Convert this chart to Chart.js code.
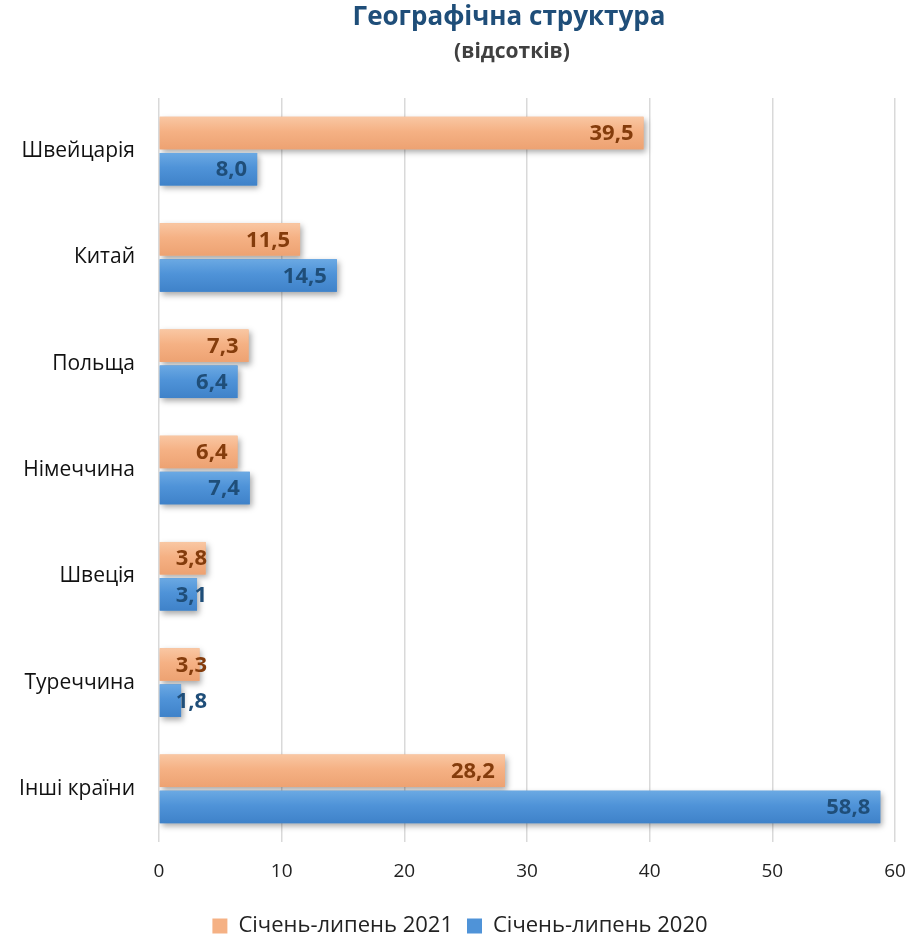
<!DOCTYPE html>
<html>
<head>
<meta charset="utf-8">
<script src="https://cdn.jsdelivr.net/npm/chart.js@4.4.1/dist/chart.umd.min.js"></script>
<style>
html,body{margin:0;padding:0;background:#fff;}
#wrap{width:920px;height:938px;position:relative;}
</style>
</head>
<body>
<div id="wrap"><canvas id="c" width="920" height="938"></canvas></div>
<script>
const categories = ["Швейцарія", "Китай", "Польща", "Німеччина", "Швеція", "Туреччина", "Інші країни"];
const series2021 = [39.5, 11.5, 7.3, 6.4, 3.8, 3.3, 28.2];
const series2020 = [8.0, 14.5, 6.4, 7.4, 3.1, 1.8, 58.8];
const seriesNames = ["Січень-липень 2021", "Січень-липень 2020"];
const xTicks = [0, 10, 20, 30, 40, 50, 60];
const titleText = "Географічна структура";
const subtitleText = "(відсотків)";

const FONT = "'Open Sans', 'Noto Sans', sans-serif";
const colors = [
  {base: "#F5B184", light: "#F9C7A3", dark: "#EDA272", label: "#843C0C"},
  {base: "#4F93D8", light: "#6BA9E3", dark: "#3F82C9", label: "#1F4E79"}
];

const titlePlugin = {
  id: "titlePlugin",
  afterDraw(chart) {
    const ctx = chart.ctx;
    ctx.save();
    ctx.textAlign = "center";
    ctx.textBaseline = "middle";
    ctx.fillStyle = "#1F4E79";
    ctx.font = "bold 26px " + FONT;
    ctx.fillText(titleText, 509, 18);
    ctx.fillStyle = "#404040";
    ctx.font = "bold 21px " + FONT;
    ctx.fillText(subtitleText, 512, 52);
    ctx.restore();
  }
};

const shadowPlugin = {
  id: "shadowPlugin",
  beforeDatasetDraw(chart) {
    const ctx = chart.ctx;
    ctx.save();
    ctx.shadowColor = "rgba(0,0,0,0.35)";
    ctx.shadowBlur = 6;
    ctx.shadowOffsetX = 2;
    ctx.shadowOffsetY = 3;
  },
  afterDatasetDraw(chart) {
    chart.ctx.restore();
  }
};

const shadePlugin = {
  id: "shadePlugin",
  afterDatasetsDraw(chart) {
    const ctx = chart.ctx;
    chart.data.datasets.forEach((ds, di) => {
      const meta = chart.getDatasetMeta(di);
      const c = colors[di];
      meta.data.forEach((bar, i) => {
        const top = bar.y - bar.height / 2;
        const bottom = bar.y + bar.height / 2;
        const left = Math.min(bar.base, bar.x);
        const w = Math.abs(bar.x - bar.base);
        const g = ctx.createLinearGradient(0, top, 0, bottom);
        g.addColorStop(0, c.light);
        g.addColorStop(0.45, c.base);
        g.addColorStop(1, c.dark);
        ctx.save();
        ctx.fillStyle = g;
        ctx.fillRect(left, top, w, bottom - top);
        ctx.restore();
      });
    });
    chart.data.datasets.forEach((ds, di) => {
      const meta = chart.getDatasetMeta(di);
      const c = colors[di];
      meta.data.forEach((bar, i) => {
        const v = ds.data[i];
        const txt = v.toFixed(1).replace(".", ",");
        ctx.save();
        ctx.font = "bold 22px " + FONT;
        ctx.fillStyle = c.label;
        ctx.textAlign = "right";
        ctx.textBaseline = "middle";
        const tw = ctx.measureText(txt).width;
        const right = Math.max(bar.x - 10, bar.base + 16 + tw);
        ctx.fillText(txt, right, bar.y + 1);
        ctx.restore();
      });
    });
  }
};

new Chart(document.getElementById("c"), {
  type: "bar",
  data: {
    labels: categories,
    datasets: [
      {label: seriesNames[0], data: series2021, backgroundColor: colors[0].base, borderWidth: 0,
       barPercentage: 0.9, categoryPercentage: 0.68},
      {label: seriesNames[1], data: series2020, backgroundColor: colors[1].base, borderWidth: 0,
       barPercentage: 0.9, categoryPercentage: 0.68}
    ]
  },
  options: {
    indexAxis: "y",
    responsive: false,
    animation: false,
    devicePixelRatio: 1,
    layout: {padding: {top: 98, right: 0, left: 0, bottom: -9}},
    scales: {
      x: {
        min: 0, max: 60,
        afterBuildTicks(scale) { scale.ticks = xTicks.map(v => ({value: v})); },
        afterFit(scale) { scale.height = 59; scale.paddingRight = 25; scale.paddingLeft = 0; },
        grid: {color: "#D9D9D9", lineWidth: 1.5, drawTicks: false},
        border: {display: false},
        ticks: {font: {family: FONT, size: 19}, color: "#222", padding: 18}
      },
      y: {
        grid: {display: false},
        border: {display: false},
        afterFit(scale) { scale.width = 159; },
        ticks: {font: {family: FONT, size: 21}, color: "#111", padding: 16}
      }
    },
    plugins: {
      legend: {
        position: "bottom",
        labels: {
          font: {family: FONT, size: 22},
          color: "#222",
          boxWidth: 15, boxHeight: 15,
          padding: 14
        }
      },
      tooltip: {enabled: false}
    }
  },
  plugins: [titlePlugin, shadowPlugin, shadePlugin]
});
</script>
</body>
</html>
